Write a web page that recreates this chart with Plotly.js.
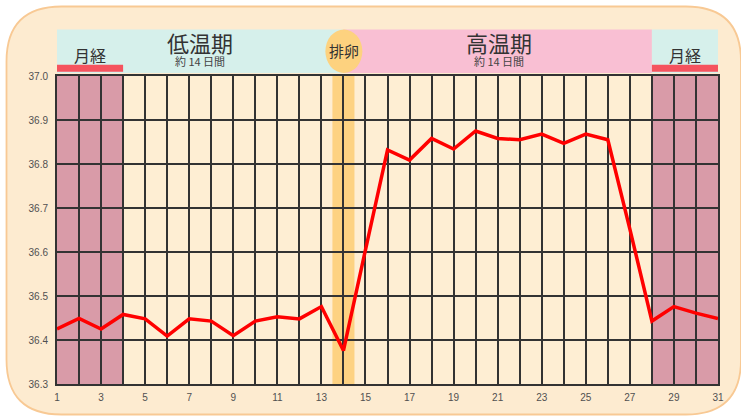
<!DOCTYPE html>
<html>
<head>
<meta charset="utf-8">
<script src="https://cdn.plot.ly/plotly-3.0.1.min.js"></script>
<style>
html,body{margin:0;padding:0;background:#ffffff;}
#chart{width:741px;height:419px;}
</style>
</head>
<body>
<div id="chart"></div>
<script>
// ---- data ----
var days = [1,2,3,4,5,6,7,8,9,10,11,12,13,14,15,16,17,18,19,20,21,22,23,24,25,26,27,28,29,30,31];
var temps = [36.425,36.449,36.425,36.458,36.448,36.409,36.448,36.443,36.410,36.443,36.453,36.448,36.476,36.376,36.605,36.832,36.809,36.858,36.834,36.875,36.858,36.855,36.868,36.847,36.868,36.855,36.652,36.443,36.476,36.461,36.449];
var xTickVals = [1,2,3,4,5,6,7,8,9,10,11,12,13,14,15,16,17,18,19,20,21,22,23,24,25,26,27,28,29,30,31];
var xTickText = ["1","","3","","5","","7","","9","","11","","13","","15","","17","","19","","21","","23","","25","","27","","29","","31"];
var yTickVals = [36.3,36.4,36.5,36.6,36.7,36.8,36.9,37.0];
var menstruationStart = [1, 28];
var menstruationEnd = [4, 31];
var ovulationDay = 14;
var phaseLabels = ["低温期", "高温期"];
var phaseCenters = [7.5, 21.05];
var phaseSub = "約 14 日間";
var mensLabel = "月経";
var mensCenters = [2.5, 29.5];
var ovuLabel = "排卵";

// ---- geometry helpers (pixel -> paper) ----
var W = 741, H = 419, ML = 57, MR = 23, MT = 76, MB = 35;
var PW = W - ML - MR, PH = H - MT - MB;
function PX(px){ return (px - ML) / PW; }
function PY(py){ return (H - MB - py) / PH; }

function roundRect(x1, y1, x2, y2, r){
  var p = '';
  p += 'M' + PX(x1 + r) + ',' + PY(y1);
  p += ' L' + PX(x2 - r) + ',' + PY(y1);
  p += ' Q' + PX(x2) + ',' + PY(y1) + ' ' + PX(x2) + ',' + PY(y1 + r);
  p += ' L' + PX(x2) + ',' + PY(y2 - r);
  p += ' Q' + PX(x2) + ',' + PY(y2) + ' ' + PX(x2 - r) + ',' + PY(y2);
  p += ' L' + PX(x1 + r) + ',' + PY(y2);
  p += ' Q' + PX(x1) + ',' + PY(y2) + ' ' + PX(x1) + ',' + PY(y2 - r);
  p += ' L' + PX(x1) + ',' + PY(y1 + r);
  p += ' Q' + PX(x1) + ',' + PY(y1) + ' ' + PX(x1 + r) + ',' + PY(y1);
  p += ' Z';
  return p;
}

var yMin = yTickVals[0], yMax = yTickVals[yTickVals.length - 1];
var hdrBot = PY(73), hdrTop = PY(29.5);
var barBot = PY(71.7), barTop = PY(64.8);

var shapes = [];
// outer rounded panel
shapes.push({type:'path', xref:'paper', yref:'paper', layer:'below',
  path: roundRect(6.5, 6.5, 741, 414.5, 55),
  fillcolor:'#FDEBD0', line:{color:'#F8C994', width:1.8}});
// plot area cream
shapes.push({type:'rect', xref:'x', yref:'y', layer:'below',
  x0:days[0], x1:days[days.length-1], y0:yMin, y1:yMax,
  fillcolor:'#FEEED3', line:{width:0}});
// menstruation columns
for (var i = 0; i < menstruationStart.length; i++){
  shapes.push({type:'rect', xref:'x', yref:'y', layer:'below',
    x0:menstruationStart[i], x1:menstruationEnd[i], y0:yMin, y1:yMax,
    fillcolor:'#D99BA8', line:{width:0}});
}
// ovulation band
shapes.push({type:'rect', xref:'x', yref:'y', layer:'below',
  x0:ovulationDay - 0.5, x1:ovulationDay + 0.5, y0:yMin, y1:yMax,
  fillcolor:'rgba(253,208,125,0.95)', line:{width:0}});
// header bands
shapes.push({type:'rect', xref:'x', yref:'paper', layer:'above',
  x0:menstruationStart[0], x1:ovulationDay, y0:hdrBot, y1:hdrTop,
  fillcolor:'#D6F0EB', line:{width:0}});
shapes.push({type:'rect', xref:'x', yref:'paper', layer:'above',
  x0:ovulationDay, x1:menstruationStart[1], y0:hdrBot, y1:hdrTop,
  fillcolor:'#F9BFD3', line:{width:0}});
shapes.push({type:'rect', xref:'x', yref:'paper', layer:'above',
  x0:menstruationStart[1], x1:menstruationEnd[1], y0:hdrBot, y1:hdrTop,
  fillcolor:'#D6F0EB', line:{width:0}});
// red menstruation bars
for (var j = 0; j < menstruationStart.length; j++){
  shapes.push({type:'rect', xref:'x', yref:'paper', layer:'above',
    x0:menstruationStart[j], x1:menstruationEnd[j], y0:barBot, y1:barTop,
    fillcolor:'#F5535E', line:{width:0}});
}
// ovulation circle
shapes.push({type:'circle', xref:'x', yref:'paper', layer:'above',
  x0:ovulationDay - 0.82, x1:ovulationDay + 0.86, y0:hdrBot, y1:hdrTop,
  fillcolor:'#FDD27F', line:{width:0}});

var cjk = '"Noto Sans CJK JP", "Noto Sans", sans-serif';
var annotations = [];
for (var k = 0; k < phaseLabels.length; k++){
  annotations.push({xref:'x', yref:'paper', x:phaseCenters[k], y:PY(47.5), 
    text:'<span style="font-size:22px;color:#333333">' + phaseLabels[k] + '</span><br>' + phaseSub,
    showarrow:false, font:{family:cjk, size:11, color:'#444444'}, align:'center',
    xanchor:'center', yanchor:'middle'});
}
for (var m = 0; m < mensCenters.length; m++){
  annotations.push({xref:'x', yref:'paper', x:mensCenters[m], y:PY(54.5), text:mensLabel,
    showarrow:false, font:{family:cjk, size:16, color:'#333333'}, xanchor:'center', yanchor:'middle'});
}
annotations.push({xref:'x', yref:'paper', x:ovulationDay + 0.02, y:PY(50.5), text:ovuLabel,
  showarrow:false, font:{family:cjk, size:15, color:'#333333'}, xanchor:'center', yanchor:'middle'});

var trace = {
  x: days, y: temps, type:'scatter', mode:'lines',
  line:{color:'#FF0000', width:3.5}, hoverinfo:'skip', cliponaxis:false
};

var tickFont = {family:'"Liberation Sans", Arial, sans-serif', size:10, color:'#505050'};
var layout = {
  width:W, height:H,
  margin:{l:ML, r:MR, t:MT, b:MB, pad:0},
  paper_bgcolor:'#ffffff',
  plot_bgcolor:'rgba(0,0,0,0)',
  showlegend:false,
  xaxis:{range:[days[0], days[days.length-1]], tickvals:xTickVals, ticktext:xTickText,
    showgrid:true, gridcolor:'#333333', gridwidth:2, zeroline:false,
    showline:true, linecolor:'#333333', linewidth:2, mirror:true,
    ticks:'', tickfont:tickFont, ticklabelstandoff:3, fixedrange:true},
  yaxis:{range:[yMin, yMax], tickvals:yTickVals, tickformat:'.1f',
    showgrid:true, gridcolor:'#333333', gridwidth:2, zeroline:false,
    showline:true, linecolor:'#333333', linewidth:2, mirror:true,
    ticks:'', tickfont:tickFont, ticklabelstandoff:5, fixedrange:true},
  shapes:shapes,
  annotations:annotations
};

Plotly.newPlot('chart', [trace], layout, {displayModeBar:false, staticPlot:true});
</script>
</body>
</html>
